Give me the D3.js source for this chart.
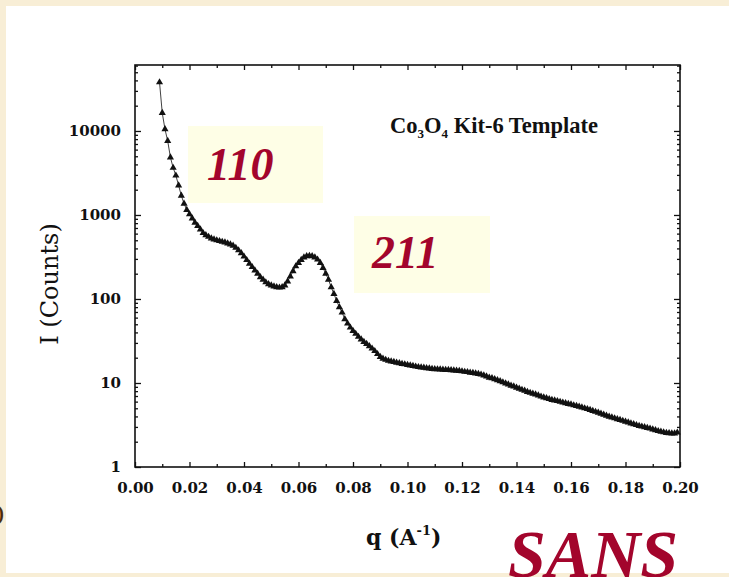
<!DOCTYPE html>
<html>
<head>
<meta charset="utf-8">
<script src="https://cdn.jsdelivr.net/npm/d3@7"></script>
<style>
  html, body { margin: 0; padding: 0; background: #f8eed6; }
  svg { display: block; }
</style>
</head>
<body>
<svg id="chart" width="729" height="577"></svg>
<script>
// Scattering vector q (1/Å)
const qValues = [
  0.009, 0.010, 0.011, 0.012, 0.013, 0.014, 0.015, 0.016, 0.017, 0.018, 0.019,
  0.020, 0.021, 0.022, 0.023, 0.024, 0.025, 0.026, 0.027, 0.028, 0.029,
  0.030, 0.031, 0.032, 0.033, 0.034, 0.035, 0.036, 0.037, 0.038, 0.039,
  0.040, 0.041, 0.042, 0.043, 0.044, 0.045, 0.046, 0.047, 0.048, 0.049,
  0.050, 0.051, 0.052, 0.053, 0.054, 0.055, 0.056, 0.057, 0.058, 0.059,
  0.060, 0.061, 0.062, 0.063, 0.064, 0.065, 0.066, 0.067, 0.068, 0.069,
  0.070, 0.071, 0.072, 0.073, 0.074, 0.075, 0.076, 0.077, 0.078, 0.079,
  0.080, 0.081, 0.082, 0.083, 0.084, 0.085, 0.086, 0.087, 0.088, 0.089,
  0.090, 0.091, 0.092, 0.093, 0.094, 0.095, 0.096, 0.097, 0.098, 0.099,
  0.100, 0.101, 0.102, 0.103, 0.104, 0.105, 0.106, 0.107, 0.108, 0.109,
  0.110, 0.111, 0.112, 0.113, 0.114, 0.115, 0.116, 0.117, 0.118, 0.119,
  0.120, 0.121, 0.122, 0.123, 0.124, 0.125, 0.126, 0.127, 0.128, 0.129,
  0.130, 0.131, 0.132, 0.133, 0.134, 0.135, 0.136, 0.137, 0.138, 0.139,
  0.140, 0.141, 0.142, 0.143, 0.144, 0.145, 0.146, 0.147, 0.148, 0.149,
  0.150, 0.151, 0.152, 0.153, 0.154, 0.155, 0.156, 0.157, 0.158, 0.159,
  0.160, 0.161, 0.162, 0.163, 0.164, 0.165, 0.166, 0.167, 0.168, 0.169,
  0.170, 0.171, 0.172, 0.173, 0.174, 0.175, 0.176, 0.177, 0.178, 0.179,
  0.180, 0.181, 0.182, 0.183, 0.184, 0.185, 0.186, 0.187, 0.188, 0.189,
  0.190, 0.191, 0.192, 0.193, 0.194, 0.195, 0.196, 0.197, 0.198, 0.199
];

// Scattered intensity I (counts)
const counts = [
  38000, 16400, 10500, 7600, 4850, 3650, 2950, 2250, 1700, 1365, 1150,
  1020, 910, 810, 740, 675, 610, 575, 550, 527, 513,
  500, 490, 480, 471, 459, 447, 431, 407, 380, 351,
  320, 291, 263, 240, 219, 200, 182, 170, 158, 150,
  145, 141, 138, 137, 138, 145, 162, 186, 214, 245,
  269, 292, 313, 324, 327, 324, 313, 295, 269, 234,
  200, 170, 138, 115, 95, 80, 69, 57.5, 51, 45.7,
  41.7, 38.5, 35.5, 33.1, 30.9, 29.2, 27.5, 25.7, 24.0, 22.1,
  20.4, 19.5, 18.9, 18.4, 18.1, 17.8, 17.5, 17.2, 16.9, 16.7,
  16.4, 16.2, 16.0, 15.7, 15.5, 15.3, 15.2, 15.0, 14.9, 14.7,
  14.6, 14.55, 14.5, 14.4, 14.3, 14.3, 14.2, 14.1, 14.0, 13.9,
  13.8, 13.6, 13.5, 13.3, 13.2, 13.0, 12.8, 12.6, 12.3, 12.0,
  11.6, 11.4, 11.1, 10.8, 10.5, 10.2, 9.9, 9.6, 9.3, 9.1,
  8.8, 8.55, 8.3, 8.1, 7.85, 7.65, 7.45, 7.3, 7.1, 6.9,
  6.75, 6.6, 6.45, 6.3, 6.2, 6.1, 5.97, 5.86, 5.75, 5.65,
  5.55, 5.43, 5.33, 5.22, 5.12, 5.0, 4.9, 4.79, 4.66, 4.54,
  4.43, 4.32, 4.2, 4.09, 3.98, 3.89, 3.8, 3.72, 3.63, 3.55,
  3.47, 3.39, 3.31, 3.24, 3.16, 3.09, 3.03, 2.98, 2.92, 2.87,
  2.8, 2.74, 2.68, 2.63, 2.59, 2.55, 2.53, 2.51, 2.51, 2.57
];

// Axis ticks
const xMajorTicks = [0, 0.02, 0.04, 0.06, 0.08, 0.10, 0.12, 0.14, 0.16, 0.18, 0.20];
const xMinorTicks = [0.01, 0.03, 0.05, 0.07, 0.09, 0.11, 0.13, 0.15, 0.17, 0.19];
const xTickLabels = ["0.00", "0.02", "0.04", "0.06", "0.08", "0.10", "0.12", "0.14", "0.16", "0.18", "0.20"];
const yMajorTicks = [1, 10, 100, 1000, 10000];
const yTickLabels = ["1", "10", "100", "1000", "10000"];

// Peak annotations
const peakLabels = ["110", "211"];

const svg = d3.select("#chart");
const W = 729, H = 577;

// page panel
svg.append("rect").attr("x", 0).attr("y", 0).attr("width", W).attr("height", H).attr("fill", "#f8eed6");
svg.append("rect").attr("x", 6).attr("y", 6).attr("width", W - 6).attr("height", 567).attr("fill", "#ffffff");

const plot = { left: 135, right: 680, top: 65, bottom: 467 };

const x = d3.scaleLinear().domain([0, 0.2]).range([plot.left, plot.right]);
const y = d3.scaleLog().domain([1, 61000]).range([plot.bottom, plot.top]);

const yMinorTicks = [];
for (let d = 1; d <= 10000; d *= 10) {
  for (let k = 2; k <= 9; k++) { if (d * k < 61000) yMinorTicks.push(d * k); }
}

// peak label boxes (behind the data)
const boxes = svg.append("g");
boxes.append("rect").attr("x", 188).attr("y", 126).attr("width", 135).attr("height", 77).attr("fill", "#fefee6");
boxes.append("rect").attr("x", 354).attr("y", 216).attr("width", 136).attr("height", 77).attr("fill", "#fefee6");

const tickFont = "'DejaVu Serif', serif";

function styleAxis(g) {
  g.select(".domain").remove();
  g.selectAll(".tick line").attr("stroke", "#111").attr("stroke-width", 1.3);
  g.selectAll(".tick text")
    .attr("font-family", tickFont).attr("font-weight", "bold")
    .attr("font-size", 15).attr("fill", "#111");
}

// bottom axis
svg.append("g").attr("transform", `translate(0,${plot.bottom})`)
  .call(d3.axisBottom(x).tickValues(xMajorTicks).tickSize(-5).tickPadding(15)
    .tickFormat((d, i) => xTickLabels[i]))
  .call(styleAxis);
svg.append("g").attr("transform", `translate(0,${plot.bottom})`)
  .call(d3.axisBottom(x).tickValues(xMinorTicks).tickSize(-3).tickFormat(""))
  .call(styleAxis);

// top axis
svg.append("g").attr("transform", `translate(0,${plot.top})`)
  .call(d3.axisTop(x).tickValues(xMajorTicks).tickSize(-5).tickFormat(""))
  .call(styleAxis);
svg.append("g").attr("transform", `translate(0,${plot.top})`)
  .call(d3.axisTop(x).tickValues(xMinorTicks).tickSize(-3).tickFormat(""))
  .call(styleAxis);

// left axis
svg.append("g").attr("transform", `translate(${plot.left},0)`)
  .call(d3.axisLeft(y).tickValues(yMajorTicks).tickSize(-6).tickPadding(14)
    .tickFormat((d, i) => yTickLabels[i]))
  .call(styleAxis);
svg.append("g").attr("transform", `translate(${plot.left},0)`)
  .call(d3.axisLeft(y).tickValues(yMinorTicks).tickSize(-3).tickFormat(""))
  .call(styleAxis);

// right axis
svg.append("g").attr("transform", `translate(${plot.right},0)`)
  .call(d3.axisRight(y).tickValues(yMajorTicks).tickSize(-6).tickFormat(""))
  .call(styleAxis);
svg.append("g").attr("transform", `translate(${plot.right},0)`)
  .call(d3.axisRight(y).tickValues(yMinorTicks).tickSize(-3).tickFormat(""))
  .call(styleAxis);

// frame
svg.append("rect")
  .attr("x", plot.left).attr("y", plot.top)
  .attr("width", plot.right - plot.left).attr("height", plot.bottom - plot.top)
  .attr("fill", "none").attr("stroke", "#111").attr("stroke-width", 1.6);

// data
const points = qValues.map((q, i) => ({ q, I: counts[i] }));
svg.append("path")
  .datum(points)
  .attr("fill", "none").attr("stroke", "#111").attr("stroke-width", 0.8)
  .attr("d", d3.line().x(d => x(d.q)).y(d => y(d.I)));
svg.append("g").selectAll("path")
  .data(points).join("path")
  .attr("transform", d => `translate(${x(d.q)},${y(d.I)})`)
  .attr("d", d3.symbol(d3.symbolTriangle, 22))
  .attr("fill", "#111");

// in-plot title
const title = svg.append("text")
  .attr("x", 390).attr("y", 133)
  .attr("font-family", "'Liberation Serif', serif").attr("font-weight", "bold")
  .attr("font-size", 22.5).attr("fill", "#111");
title.append("tspan").text("Co");
title.append("tspan").attr("font-size", 13).attr("dy", 5).text("3");
title.append("tspan").attr("dy", -5).text("O");
title.append("tspan").attr("font-size", 13).attr("dy", 5).text("4");
title.append("tspan").attr("dy", -5).text(" Kit-6 Template");

// peak labels
const peakFont = { family: "'Liberation Serif', serif", size: 46, color: "#a3052c" };
svg.append("text").attr("x", 207).attr("y", 180)
  .attr("font-family", peakFont.family).attr("font-weight", "bold").attr("font-style", "italic")
  .attr("font-size", peakFont.size).attr("fill", peakFont.color).text(peakLabels[0]);
svg.append("text").attr("x", 372).attr("y", 268)
  .attr("font-family", peakFont.family).attr("font-weight", "bold").attr("font-style", "italic")
  .attr("font-size", peakFont.size).attr("fill", peakFont.color).text(peakLabels[1]);

// axis titles
svg.append("text")
  .attr("transform", "translate(58,284) rotate(-90)")
  .attr("text-anchor", "middle")
  .attr("font-family", tickFont).attr("font-size", 24).attr("fill", "#111")
  .text("I (Counts)");

const xTitle = svg.append("text")
  .attr("x", 366).attr("y", 545)
  .attr("font-family", tickFont).attr("font-weight", "bold")
  .attr("font-size", 22).attr("fill", "#111");
xTitle.append("tspan").text("q (A");
xTitle.append("tspan").attr("font-size", 13).attr("dy", -10).text("-1");
xTitle.append("tspan").attr("dy", 10).text(")");

// panel caption
svg.append("text")
  .attr("x", 508).attr("y", 577)
  .attr("font-family", "'Liberation Serif', serif").attr("font-weight", "bold").attr("font-style", "italic")
  .attr("font-size", 68).attr("fill", "#a3052c")
  .text("SANS");

// edge of the neighbouring panel's letter
svg.append("text")
  .attr("x", 4).attr("y", 520).attr("text-anchor", "end")
  .attr("font-family", "'Liberation Serif', serif").attr("font-weight", "bold")
  .attr("font-size", 20).attr("fill", "#4a2c0a")
  .text(")");
</script>
</body>
</html>
